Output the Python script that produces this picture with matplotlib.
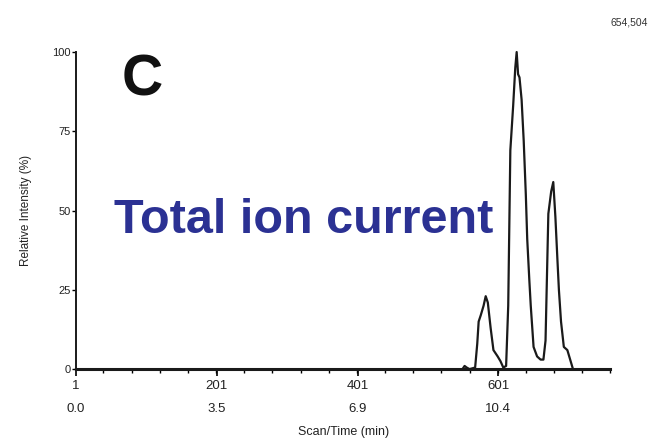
import matplotlib
matplotlib.use("Agg")
import matplotlib.pyplot as plt
from matplotlib.ticker import MultipleLocator

# total ion current trace
scans = [1, 200, 400, 550, 553, 556, 560, 568, 571, 573, 576, 580, 583, 586,
         590, 594, 600, 604, 608, 612, 615, 618, 622, 625, 627, 629, 631, 634,
         637, 640, 642, 645, 647, 651, 656, 661, 665, 668, 672, 676, 679, 682,
         685, 687, 690, 694, 699, 703, 707, 720, 760]
intensity = [0, 0, 0, 0, 1, 0.5, 0, 0.5, 8, 15, 17, 20, 23, 21,
             13, 6, 4, 2.5, 0.5, 1, 20, 69, 83, 95, 100, 93, 92, 85,
             72, 55, 41, 28, 20, 7, 4, 3, 3, 9, 49, 56, 59, 48,
             34, 25, 15, 7, 6, 3, 0, 0, 0]

xticks = [1, 201, 401, 601]
xtick_labels = ["1\n0.0", "201\n3.5", "401\n6.9", "601\n10.4"]
yticks = [0, 25, 50, 75, 100]

plt.rcParams['font.family'] = ['Liberation Sans', 'DejaVu Sans']

fig = plt.figure(figsize=(6.58, 4.41), dpi=100)
ax = fig.add_axes([0.1155, 0.163, 0.812, 0.719])

ax.plot(scans, intensity, color="#1a1a1a", lw=1.6, clip_on=False)
ax.set_xlim(1, 760)
ax.set_ylim(0, 100)

for s in ["top", "right"]:
    ax.spines[s].set_visible(False)
ax.spines["bottom"].set_linewidth(2.2)
ax.spines["left"].set_linewidth(1.4)
ax.spines["bottom"].set_color("#1a1a1a")
ax.spines["left"].set_color("#1a1a1a")

ax.set_xticks(xticks)
ax.set_xticklabels(xtick_labels, fontsize=9.5, linespacing=2.25, color="#222222")
ax.xaxis.set_minor_locator(MultipleLocator(40))
ax.set_yticks(yticks)
ax.set_yticklabels([str(v) for v in yticks], fontsize=8, color="#222222")
ax.tick_params(axis="x", which="major", length=5, width=1.2, pad=2.5)
ax.tick_params(axis="x", which="minor", length=3, width=1.0)
ax.tick_params(axis="y", which="major", length=3, width=1.0, pad=1)

ax.set_xlabel("Scan/Time (min)", fontsize=9, color="#222222", labelpad=8)
ax.set_ylabel("Relative Intensity (%)", fontsize=8.5, color="#222222", labelpad=14)

fig.text(0.985, 0.95, "654,504", fontsize=7.5, ha="right", va="center",
         color="#333333")
ax.text(0.085, 0.91, "C", transform=ax.transAxes, fontsize=41,
        fontweight="bold", color="#111111", ha="left", va="center")
ax.text(0.072, 0.47, "Total ion current", transform=ax.transAxes,
        fontsize=35, fontweight="bold", color="#2b3193", ha="left",
        va="center")

fig.savefig("out.png", dpi=100)
